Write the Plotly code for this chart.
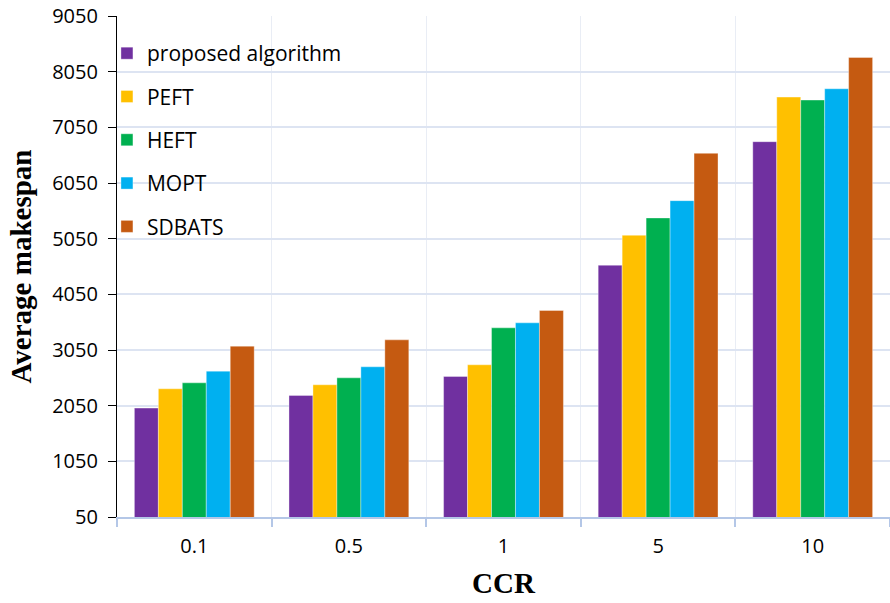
import plotly.graph_objects as go

categories = ["0.1", "0.5", "1", "5", "10"]
series_names = ["proposed algorithm", "PEFT", "HEFT", "MOPT", "SDBATS"]
proposed = [2006, 2234, 2575, 4573, 6792]
peft = [2353, 2425, 2784, 5111, 7593]
heft = [2460, 2550, 3448, 5422, 7540]
mopt = [2670, 2748, 3538, 5733, 7743]
sdbats = [3119, 3232, 3759, 6583, 8305]
colors = ["#7030A0", "#FFC000", "#00B050", "#00B0F0", "#C55A11"]
y_ticks = [50, 1050, 2050, 3050, 4050, 5050, 6050, 7050, 8050, 9050]

values = [proposed, peft, heft, mopt, sdbats]

fig = go.Figure()
for name, vals, col in zip(series_names, values, colors):
    fig.add_trace(go.Bar(
        x=categories, y=vals, name=name, legendgroup=name,
        marker=dict(color=col, line=dict(color="rgba(255,255,255,0.6)", width=0.6)),
    ))

sans = "Open Sans"
serif = "Liberation Serif"

fig.update_layout(
    width=890, height=603,
    margin=dict(l=117, r=0, t=16, b=86),
    paper_bgcolor="white", plot_bgcolor="white",
    barmode="group", bargap=0.225, bargroupgap=0,
    font=dict(family=sans, size=20, color="black"),
    showlegend=True,
    legend=dict(
        x=-0.013, y=0.966, xanchor="left", yanchor="top",
        bgcolor="rgba(0,0,0,0)", font=dict(family=sans, size=21, color="black"),
        tracegroupgap=13, traceorder="grouped",
    ),
    xaxis=dict(
        type="category", tickson="boundaries",
        showgrid=True, gridcolor="#E9EDF5", gridwidth=1,
        showline=True, linecolor="#B4C7E7", linewidth=1.5,
        ticks="outside", ticklen=8, tickcolor="#B4C7E7", tickwidth=1.5,
        tickfont=dict(family=sans, size=20, color="black"),
        ticklabelstandoff=10,
        title=dict(text="<b>CCR</b>", font=dict(family=serif, size=29, color="black"), standoff=15),
        range=[-0.5, 4.5],
    ),
    yaxis=dict(
        range=[50, 9050], tickmode="array", tickvals=y_ticks,
        ticktext=[str(v) for v in y_ticks],
        showgrid=True, gridcolor="#DDE4F2", gridwidth=1.5,
        showline=True, linecolor="black", linewidth=1.2,
        ticks="outside", ticklen=8, tickcolor="black", tickwidth=1.2,
        tickfont=dict(family=sans, size=20, color="black"),
        ticklabelstandoff=6,
        zeroline=False,
        title=dict(text="<b>Average makespan</b>", font=dict(family=serif, size=29, color="black"), standoff=12),
    ),
)

fig.write_html("out.html")
